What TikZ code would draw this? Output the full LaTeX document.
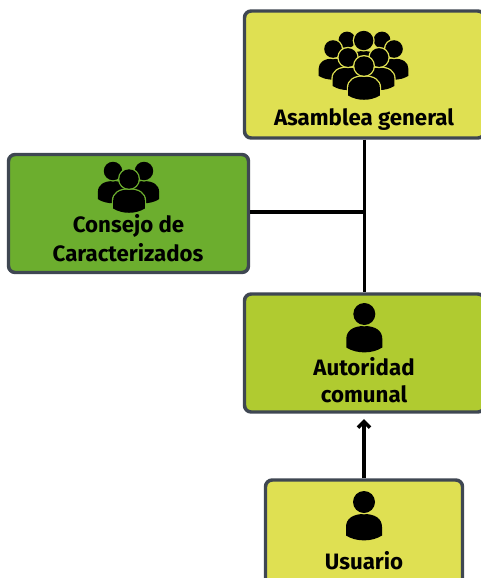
\documentclass[tikz,border=0pt]{standalone}
\usepackage{fontspec}
\setmainfont{Fira Sans}
\usetikzlibrary{arrows.meta}
\definecolor{edgegray}{HTML}{3F4752}
\definecolor{paleyellow}{HTML}{DFE052}
\definecolor{midgreen}{HTML}{6CAE2E}
\definecolor{limegreen}{HTML}{B0CB30}
\tikzset{
  panel/.style={draw=edgegray,line width=2.6pt,rounded corners=5pt,inner sep=0pt},
  caption/.style={anchor=base,inner sep=0pt,font=\bfseries\fontsize{16.7pt}{18pt}\selectfont,text=black},
  link/.style={draw=black,line width=2.7pt},
}
% head centre x, y (px), scale, outline colour
\newcommand{\persona}[4]{%
  \begin{scope}[shift={(#1,#2)},scale=#3]
    \path[fill=black,preaction={draw=#4,line width=2pt}]
      (-18,33.5) -- (-18,25) .. controls (-18,16.5) and (-11,12) .. (0,12)
      .. controls (11,12) and (18,16.5) .. (18,25) -- (18,33.5)
      .. controls (8,40) and (-8,40) .. (-18,33.5) -- cycle;
    \path[fill=black,preaction={draw=#4,line width=2pt}] (0,0) circle[radius=11];
  \end{scope}}
\begin{document}
\begin{tikzpicture}[x=0.75pt,y=-0.75pt]
\useasboundingbox (0,0) rectangle (481,578);
\clip (0,0) rectangle (481,578);
\node[panel,fill=paleyellow,minimum width=180pt,minimum height=95.25pt] (asamblea) at (364.5,74.5) {};
\node[panel,fill=midgreen,minimum width=180pt,minimum height=88.5pt] (consejo) at (128.5,213.5) {};
\node[panel,fill=limegreen,minimum width=180pt,minimum height=88.5pt] (autoridad) at (364.5,353) {};
\node[panel,fill=paleyellow,minimum width=147.75pt,minimum height=82.5pt] (usuario) at (364,535) {};
\coordinate (salida) at ([yshift=1pt]consejo.east);
\coordinate (cruce) at (salida -| asamblea.south);
\coordinate (llegada) at (usuario.north |- autoridad.south);
\draw[link] (asamblea.south) -- (autoridad.north);
\draw[link] (salida) -- (cruce);
\draw[link,-{Straight Barb[length=4.5pt,width=9pt]},shorten >=4pt] (usuario.north) -- (llegada);
% Asamblea icon
\persona{347}{40}{0.76}{paleyellow}
\persona{382}{40}{0.76}{paleyellow}
\persona{333}{49}{0.8}{paleyellow}
\persona{394}{49}{0.8}{paleyellow}
\persona{363.7}{40.5}{0.88}{paleyellow}
\persona{348}{57.5}{0.85}{paleyellow}
\persona{379}{57.5}{0.85}{paleyellow}
\persona{364}{66}{0.88}{paleyellow}
% Consejo icon
\persona{113}{171}{0.84}{midgreen}
\persona{144}{171}{0.84}{midgreen}
\persona{129}{179}{0.88}{midgreen}
% single persons
\persona{364.3}{314}{1}{limegreen}
\persona{364}{502}{1}{paleyellow}
% captions
\node[caption] (t1) at (364,125) {Asamblea general};
\node[caption] (t2) at (128.5,232) {Consejo de};
\node[caption] (t3) at (128,261) {Caracterizados};
\node[caption] (t4) at (364,375) {Autoridad};
\node[caption] (t5) at (364,402) {comunal};
\node[caption] (t6) at (364,569) {Usuario};
\end{tikzpicture}
\end{document}
